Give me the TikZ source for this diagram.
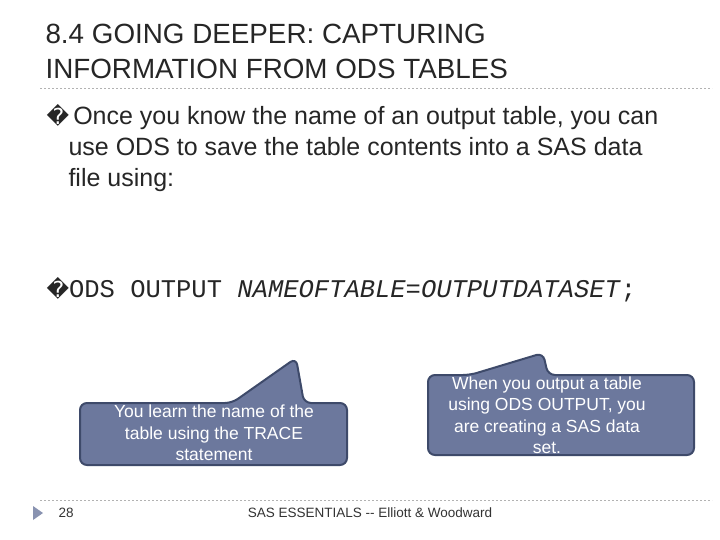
\documentclass[tikz,border=0pt]{standalone}
\usepackage{fontspec}
\setmainfont{Liberation Sans}
\newfontfamily\dejavu{DejaVu Sans}
\newfontfamily\codefont{Liberation Mono}
\begin{document}
\begin{tikzpicture}[x=1pt,y=-1pt,
  callout/.style={fill=calfill,draw=calborder,line width=2pt,rounded corners=7pt},
  calltext/.style={text=white,align=center,font=\fontsize{17.5}{21.5}\selectfont},
  body/.style={anchor=base west,font=\fontsize{25}{28}\selectfont,text=black!85}]
\definecolor{calfill}{HTML}{6C789D}
\definecolor{calborder}{HTML}{3E4A6A}
\useasboundingbox (0,0) rectangle (720,540);
\fill[white] (0,0) rectangle (720,540);
\node[anchor=base west,font=\fontsize{27.8}{35}\selectfont,text=black!85] (title) at (42,44) {8.4 GOING DEEPER: CAPTURING};
\node[anchor=base west,font=\fontsize{27.8}{35}\selectfont,text=black!85] (title2) at (42,79) {INFORMATION FROM ODS TABLES};
\draw[gray!60,dash pattern=on 2pt off 2pt] (40,88) -- (712,88);
\draw[gray!60,dash pattern=on 2pt off 2pt] (40,500) -- (712,500);
\node[body] (b1) at (43,125) {{\dejavu\fontsize{22}{22}\selectfont �}\,Once you know the name of an output table, you can};
\node[body] (b1b) at (65,156) {use ODS to save the table contents into a SAS data};
\node[body] (b1c) at (65,187) {file using:};
\node[body] (b2) at (43,297) {{\dejavu\fontsize{22}{22}\selectfont �}\codefont\fontsize{25.5}{28}\selectfont ODS OUTPUT \textit{NAMEOFTABLE=OUTPUTDATASET};};
% left callout
\draw[callout] (80,403) -- (232,403) -- (296,358) -- (304,403) -- (347,403) -- (347,465) -- (80,465) -- cycle;
\node[calltext] (c1) at (214,433) {You learn the name of the\\table using the TRACE\\statement};
% right callout
\draw[callout] (428,375) -- (470,375) -- (543,353) -- (548,375) -- (694,375) -- (694,455) -- (428,455) -- cycle;
\node[calltext] (c2) at (547,415) {When you output a table\\using ODS OUTPUT, you\\are creating a SAS data\\set.};
\fill[calfill!80] (33,506) -- (43,513) -- (33,520) -- cycle;
\node[anchor=west,font=\fontsize{13.5}{15}\selectfont,text=black!80] (pg) at (55,513) {28};
\node[font=\fontsize{13.5}{15}\selectfont,text=black!80] (ft) at (370,513) {SAS ESSENTIALS -{}- Elliott \& Woodward};
\end{tikzpicture}
\end{document}
